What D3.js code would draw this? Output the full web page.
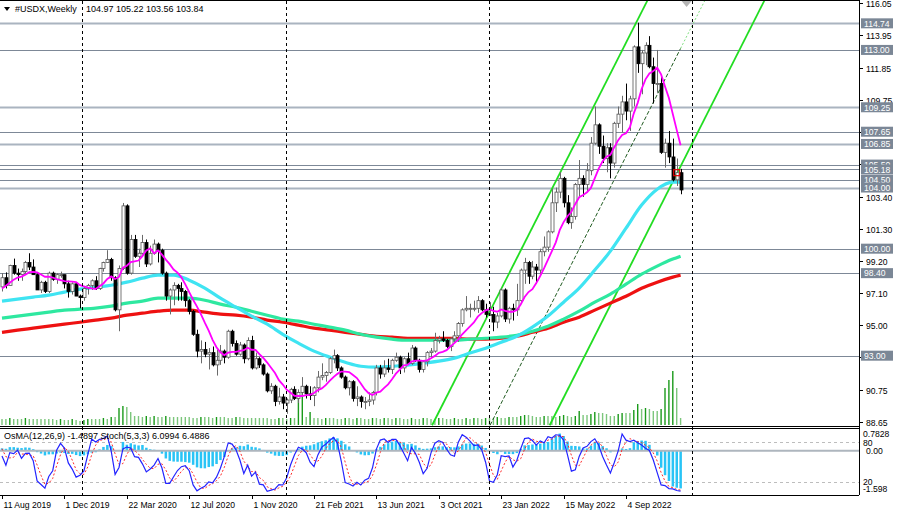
<!DOCTYPE html>
<html lang="en">
<head>
<meta charset="utf-8">
<title>#USDX, Weekly</title>
<script src="https://cdn.jsdelivr.net/npm/d3@7"></script>
<style>
  body { margin: 0; background: #fff; }
  svg text { font-family: "Liberation Sans", Arial, sans-serif; }
</style>
</head>
<body>
<div id="chart"></div>
<script>
// weekly bars from the week of 6 Jan 2019; the first 31 are only warm-up for the indicators,
// the chart shows them from 11 Aug 2019 on
var firstWeek = "2019-01-06";
var firstShown = 31;
var firstOpen = 96.2;

var weekHigh = [
  96.3,96.4,96.6,95.9,96.6,97.4,96.9,96.7,97.7,97.3,96.9,97.3,97.3,97.4,97.4,98.3,98.0,97.8,98.0,98.4,98.2,97.8,97.6,97.7,96.5,97.4,97.6,97.4,98.0,98.9,98.2,
  98.4,98.45,98.95,99.35,98.7,98.7,99.2,99.7,99.3,98.4,
  97.9,97.9,98.5,98.5,98.4,98.5,98.3,97.9,97.8,97.8,
  97.0,97.5,97.7,98.0,98.2,98.75,99.15,99.9,99.4,98.2,
  98.9,102.99,102.9,100.9,100.9,100.0,100.9,100.6,100.2,100.6,
  100.4,100.0,98.5,97.4,97.8,97.7,97.8,97.3,96.7,96.0,
  94.7,94.0,93.9,93.5,93.6,93.4,93.7,93.4,94.7,94.7,
  94.0,93.9,93.8,94.2,94.3,93.2,92.9,92.5,91.9,91.2,
  91.1,90.9,90.5,90.2,90.9,91.0,90.8,91.6,91.1,91.0,
  91.0,92.0,92.5,92.0,92.9,93.4,93.1,92.3,91.7,91.4,
  91.4,91.0,90.4,90.3,90.6,90.7,92.4,92.4,92.7,92.8,
  92.8,93.2,93.0,92.9,93.2,93.7,93.6,92.8,92.7,93.3,
  93.5,94.5,94.3,94.6,94.1,94.2,94.6,95.2,96.1,96.9,
  96.4,96.6,96.9,96.7,96.4,96.5,96.2,95.8,97.4,97.4,
  96.2,96.4,97.7,98.7,99.4,99.2,99.2,99.0,100.0,100.8,
  101.2,103.9,104.0,105.0,104.7,103.5,102.7,104.3,105.8,104.8,
  105.6,107.3,109.3,108.2,107.4,106.9,106.9,108.3,109.3,110.0,
  110.8,110.0,113.3,114.78,113.0,113.5,113.9,112.5,113.0,111.3,
  107.2,107.7,107.2,105.9,105.22
];
var weekLow = [
  95.0,95.5,95.7,95.2,95.6,96.4,96.2,95.9,96.5,96.5,95.7,96.3,96.8,96.7,96.7,97.3,97.1,97.0,97.2,97.6,97.6,96.5,96.5,96.1,95.8,96.0,96.6,96.7,97.0,97.9,97.0,
  97.2,97.4,97.6,98.3,97.9,97.9,98.3,98.6,98.3,97.3,
  97.1,97.1,97.1,97.9,97.7,98.1,97.4,96.8,97.0,96.9,
  96.1,96.6,97.0,97.3,97.3,97.3,98.5,99.1,97.9,95.9,
  94.6,98.6,98.3,98.3,99.4,98.8,99.6,98.8,98.9,99.6,
  99.1,98.3,96.6,95.7,96.3,96.6,96.6,96.2,95.7,94.3,
  92.9,92.5,92.9,92.1,92.3,91.7,92.4,92.5,92.8,93.6,
  93.0,93.0,92.5,92.7,92.1,92.1,92.2,91.7,90.6,90.5,
  89.7,89.8,89.5,89.2,89.9,90.1,89.9,90.4,90.2,90.1,
  89.7,90.6,91.4,91.3,91.8,92.5,92.0,91.5,90.8,90.4,
  90.0,89.7,89.6,89.5,89.7,89.8,90.4,91.5,91.6,91.9,
  91.8,92.6,91.8,91.9,92.4,92.4,92.6,91.9,91.9,92.3,
  92.9,93.2,93.8,93.9,93.5,93.3,93.9,93.9,94.9,95.9,
  95.5,95.9,95.8,95.9,95.5,95.6,94.6,94.8,95.5,95.2,
  95.1,95.3,95.6,96.5,97.7,97.7,98.0,97.7,98.3,99.5,
  99.8,101.0,102.4,103.3,102.7,101.6,101.3,101.9,103.4,103.4,
  103.7,104.8,106.8,106.2,105.6,105.0,104.6,105.3,107.9,107.6,
  108.4,107.7,109.3,111.5,110.1,112.0,111.8,109.5,110.2,106.2,
  105.3,105.6,104.4,104.1,103.56
];
var weekClose = [
  95.7,96.4,95.8,95.6,96.6,96.9,96.5,96.5,97.3,96.6,96.6,97.3,97.0,96.9,97.4,98.0,97.5,97.3,98.0,97.6,97.8,96.5,97.6,96.2,96.1,97.3,96.8,97.2,98.0,98.1,97.5,
  98.1,97.6,98.9,98.4,98.3,98.5,99.1,98.8,98.3,97.3,
  97.8,97.2,98.4,98.0,98.3,98.3,97.7,97.2,97.7,96.9,
  96.8,97.4,97.6,97.9,97.4,98.7,99.1,99.3,98.1,96.0,
  98.7,102.8,98.4,100.6,99.5,99.7,100.4,99.0,99.7,100.3,
  99.9,98.4,96.9,97.3,97.6,97.4,97.2,96.6,95.9,94.4,
  93.3,93.4,93.1,93.2,92.4,92.7,93.3,92.9,94.6,93.8,
  93.1,93.7,92.8,94.0,92.2,92.8,92.4,91.8,90.7,91.0,
  90.0,90.3,89.9,90.1,90.8,90.2,90.6,91.0,90.5,90.4,
  90.9,91.6,91.7,91.9,92.8,93.0,92.2,91.6,90.9,91.3,
  90.2,90.3,90.0,90.0,90.1,90.6,92.2,91.8,92.2,92.1,
  92.7,92.9,92.2,92.8,92.5,93.5,92.7,92.1,92.6,93.2,
  93.3,94.0,94.1,94.0,93.6,94.1,94.3,95.1,96.0,96.1,
  96.1,96.1,96.6,96.0,95.7,95.7,95.2,95.6,97.3,95.4,
  96.1,96.0,96.6,98.6,99.1,98.2,98.8,98.6,99.8,100.1,
  101.1,103.0,103.7,104.6,103.0,101.7,102.1,104.2,104.6,104.2,
  105.1,106.9,108.1,106.7,105.9,106.6,105.6,108.2,108.8,109.6,
  109.0,109.8,113.2,112.1,112.8,113.3,111.9,110.8,110.8,106.3,
  106.9,106.0,104.5,104.97,103.84
];
// tick volume of the shown weeks
var tickVolume = [
  6,6,7,6,6,6,7,6,6,6, 6,6,6,6,5,6,5,5,6,5, 4,5,6,6,6,6,7,6,8,8,
  17,19,18,13,9,9,8,9,8,9, 8,8,9,8,8,8,8,8,8,7, 7,8,8,8,7,8,8,8,7,7,
  8,8,7,7,7,7,7,7,7,6, 6,7,7,6,7,7,32,33,8,13, 7,7,6,7,7,7,6,6,7,7,
  6,7,7,6,6,7,7,6,7,7, 6,7,7,6,6,7,6,6,7,7, 6,6,7,7,6,6,7,6,6,7,
  6,7,7,6,7,7,7,8,7,7, 8,8,8,9,10,10,9,8,8,9, 9,9,8,9,
  10,9,8,9,14,10,10,11,13,12,12,11,9,9,11,12,12,12,15,21,16,17,16,14,14,16,37,45,54,37,7
];

// slow moving averages, read every 4th shown week
var maWeeks = d3.range(0, 173, 4).concat([174]);
var maAqua = [96.57,96.70,96.83,96.96,97.16,97.35,97.48,97.61,97.81,98.07,98.27,98.27,97.94,97.42,96.76,96.17,95.59,95.06,94.40,93.82,
  93.30,92.91,92.57,92.31,92.25,92.31,92.38,92.51,92.64,92.84,93.17,93.49,93.88,94.27,94.87,95.59,96.50,97.42,98.60,99.84,
  101.34,102.85,103.89,104.35,104.35];
var maSpring = [95.46,95.59,95.72,95.85,95.98,96.04,96.11,96.24,96.44,96.57,96.76,96.76,96.76,96.63,96.37,96.17,95.91,95.65,95.39,95.26,
  95.06,94.87,94.67,94.40,94.21,94.08,94.01,94.01,94.01,94.01,94.08,94.14,94.21,94.34,94.60,94.93,95.39,95.91,96.50,97.03,
  97.68,98.33,98.86,99.32,99.51];
var maRed = [94.53,94.67,94.80,94.93,95.06,95.19,95.33,95.46,95.65,95.78,95.91,95.98,95.98,95.85,95.72,95.65,95.52,95.33,95.19,95.00,
  94.80,94.67,94.53,94.40,94.27,94.21,94.14,94.14,94.14,94.14,94.08,94.08,94.14,94.27,94.53,94.80,95.19,95.52,95.98,96.44,
  96.89,97.41,97.81,98.14,98.27];
var fastPeriod = 8;

var levels = [114.74, 113.00, 109.25, 107.65, 106.85, 105.50, 105.18, 104.50, 104.00, 100.00, 98.40, 93.00];
var levelLight = [true, false, true, false, true, false, false, false, true, false, false, false];

var priceTicks = ["116.05","113.95","111.85","109.75","107.65","105.55","103.40","101.30","99.20","97.10","95.00","92.90","90.75","88.65"];
var dateTicks = ["11 Aug 2019","1 Dec 2019","22 Mar 2020","12 Jul 2020","1 Nov 2020","21 Feb 2021","13 Jun 2021","3 Oct 2021","23 Jan 2022","15 May 2022","4 Sep 2022"];
var yearMarks = ["2020-01-01","2021-01-01","2022-01-01","2023-01-01"];

// regression channel: [date, price] end points
var channelUpper = [["2021-09-21", 88.45], ["2022-10-13", 116.27]];
var channelMiddle = [["2022-01-03", 88.45], ["2023-01-24", 116.27]];
var channelLower = [["2022-04-20", 88.45], ["2023-05-11", 116.27]];

var oscTicks = [["0.7828", 0.7828, "osma"], ["80", 80, "stoch"], ["0.00", 0, "osma"], ["20", 20, "stoch"], ["-1.598", -1.598, "osma"]];
var header = "#USDX,Weekly";
var headerValues = "104.97 105.22 103.56 103.84";
var oscHeader = "OsMA(12,26,9) -1.4897  Stoch(5,3,3) 6.0994 6.4886";

// ---------------------------------------------------------------
var parseDay = d3.utcParse("%Y-%m-%d");
var parseTick = d3.utcParse("%d %b %Y");
var start = parseDay(firstWeek);

var bars = weekClose.map(function(c, i) {
  return {
    date: d3.utcDay.offset(start, 7 * i),
    o: i ? weekClose[i - 1] : firstOpen,
    h: weekHigh[i], l: weekLow[i], c: c
  };
});

// indicators
function ema(arr, n) {
  var k = 2 / (n + 1), out = [];
  arr.forEach(function(v, i) { out.push(i ? out[i - 1] + k * (v - out[i - 1]) : v); });
  return out;
}
function sma(arr, n) {
  return arr.map(function(v, i) {
    var s = arr.slice(Math.max(0, i - n + 1), i + 1);
    return d3.mean(s);
  });
}
var e12 = ema(weekClose, 12), e26 = ema(weekClose, 26);
var macd = e12.map(function(v, i) { return v - e26[i]; });
var signal = sma(macd, 9);
var osma = macd.map(function(v, i) { return v - signal[i]; });
var fastMa = sma(weekClose, fastPeriod);

var stK = bars.map(function(b, i) {
  var num = 0, den = 0;
  for (var j = Math.max(0, i - 2); j <= i; j++) {
    var w = bars.slice(Math.max(0, j - 4), j + 1);
    var ll = d3.min(w, function(d) { return d.l; });
    var hh = d3.max(w, function(d) { return d.h; });
    num += bars[j].c - ll; den += hh - ll;
  }
  return den ? num / den * 100 : 50;
});
var stD = sma(stK, 3);

bars.forEach(function(b, i) {
  b.fast = fastMa[i]; b.osma = osma[i]; b.k = stK[i]; b.d = stD[i];
});
var shown = bars.slice(firstShown);
shown.forEach(function(b, i) { b.vol = tickVolume[i]; b.up = i > 0 && tickVolume[i] > tickVolume[i - 1]; });

// ---------------------------------------------------------------
var W = 900, H = 516;
var plotR = 859, mainB = 426, oscT = 428, oscB = 495;

var x = d3.scaleUtc()
  .domain([shown[0].date, shown[shown.length - 1].date])
  .range([2, 680.6]);
var y = d3.scaleLinear().domain([88.65, 116.05]).range([422.2, 3.3]);
var yOsma = d3.scaleLinear().domain([-1.598, 0.7828]).range([491, 431]);
var yStoch = d3.scaleLinear().domain([0, 100]).range([495.2, 429.2]);
var yVol = d3.scaleLinear().domain([0, d3.max(tickVolume)]).range([0, 54]);

var svg = d3.select("#chart").append("svg")
  .attr("width", W).attr("height", H);

var defs = svg.append("defs");
defs.append("clipPath").attr("id", "clipMain")
  .append("rect").attr("x", 0).attr("y", 0).attr("width", plotR).attr("height", mainB);
defs.append("clipPath").attr("id", "clipOsc")
  .append("rect").attr("x", 0).attr("y", oscT).attr("width", plotR).attr("height", oscB - oscT);

var main = svg.append("g").attr("clip-path", "url(#clipMain)");
var osc = svg.append("g").attr("clip-path", "url(#clipOsc)");

// level lines
main.selectAll("line.level").data(levels).enter().append("line")
  .attr("class", "level")
  .attr("x1", 0).attr("x2", plotR)
  .attr("y1", function(d) { return Math.round(y(d)) + 0.5; })
  .attr("y2", function(d) { return Math.round(y(d)) + 0.5; })
  .attr("stroke", function(d, i) { return levelLight[i] ? "#aab4c0" : "#7d8897"; })
  .attr("stroke-width", function(d, i) { return levelLight[i] ? 2 : 1.2; });

// year separators
svg.selectAll("line.sep").data(yearMarks).enter().append("line")
  .attr("class", "sep")
  .attr("x1", function(d) { return Math.round(x(parseDay(d))) + 0.5; })
  .attr("x2", function(d) { return Math.round(x(parseDay(d))) + 0.5; })
  .attr("y1", 1).attr("y2", oscB)
  .attr("stroke", "#000").attr("stroke-width", 1).attr("stroke-dasharray", "3,3");

// tick volume
main.selectAll("line.vol").data(shown).enter().append("line")
  .attr("class", "vol")
  .attr("x1", function(d) { return x(d.date); })
  .attr("x2", function(d) { return x(d.date); })
  .attr("y1", 425).attr("y2", function(d) { return 425 - yVol(d.vol); })
  .attr("stroke", function(d) { return d.up ? "#1a9a1a" : "#7cc67c"; })
  .attr("stroke-width", 1.4);

// channel
function chanLine(pts, color, width, dash) {
  main.append("line")
    .attr("x1", x(parseDay(pts[0][0]))).attr("y1", y(pts[0][1]))
    .attr("x2", x(parseDay(pts[1][0]))).attr("y2", y(pts[1][1]))
    .attr("stroke", color).attr("stroke-width", width)
    .attr("stroke-dasharray", dash || null);
}
chanLine(channelUpper, "#22dd22", 1.8);
chanLine(channelLower, "#22dd22", 1.8);
// middle line: dashed up to the last bar, dotted beyond
var lastDate = shown[shown.length - 1].date;
var t0 = parseDay(channelMiddle[0][0]), t1 = parseDay(channelMiddle[1][0]);
var frac = (lastDate - t0) / (t1 - t0);
var midPrice = channelMiddle[0][1] + frac * (channelMiddle[1][1] - channelMiddle[0][1]);
main.append("line")
  .attr("x1", x(t0)).attr("y1", y(channelMiddle[0][1]))
  .attr("x2", x(lastDate)).attr("y2", y(midPrice))
  .attr("stroke", "#1f5a1f").attr("stroke-width", 1).attr("stroke-dasharray", "4,2");
main.append("line")
  .attr("x1", x(lastDate)).attr("y1", y(midPrice))
  .attr("x2", x(t1)).attr("y2", y(channelMiddle[1][1]))
  .attr("stroke", "#7fe07f").attr("stroke-width", 1).attr("stroke-dasharray", "2,2");

// slow moving averages
var maLine = d3.line()
  .x(function(d) { return x(shown[d[0]].date); })
  .y(function(d) { return y(d[1]); })
  .curve(d3.curveMonotoneX);
[[maRed, "#ee1111"], [maSpring, "#2ee8a0"], [maAqua, "#3fe4f2"]].forEach(function(m) {
  main.append("path")
    .datum(maWeeks.map(function(w, i) { return [w, m[0][i]]; }))
    .attr("d", maLine)
    .attr("fill", "none").attr("stroke", m[1]).attr("stroke-width", 3.2);
});

// candles
var candle = main.selectAll("g.candle").data(shown).enter().append("g").attr("class", "candle");
candle.append("line")
  .attr("x1", function(d) { return Math.round(x(d.date)) + 0.5; })
  .attr("x2", function(d) { return Math.round(x(d.date)) + 0.5; })
  .attr("y1", function(d) { return y(d.h); })
  .attr("y2", function(d) { return y(d.l); })
  .attr("stroke", function(d) { return d.c >= d.o ? "#6a6a6a" : "#000"; })
  .attr("stroke-width", 1);
candle.append("rect")
  .attr("x", function(d) { return Math.round(x(d.date)) - 1; })
  .attr("width", 3)
  .attr("y", function(d) { return y(Math.max(d.o, d.c)); })
  .attr("height", function(d) { return Math.max(1, Math.abs(y(d.o) - y(d.c))); })
  .attr("fill", function(d) { return d.c >= d.o ? "#fff" : "#000"; })
  .attr("stroke", function(d) { return d.c >= d.o ? "#555" : "#000"; })
  .attr("stroke-width", 0.8);

// fast moving average
main.append("path")
  .datum(shown)
  .attr("d", d3.line().x(function(d) { return x(d.date); }).y(function(d) { return y(d.fast); }))
  .attr("fill", "none").attr("stroke", "#ff00ff").attr("stroke-width", 1.8);

// marker at the previous close, shift marker
var prev = shown[shown.length - 2];
main.append("rect")
  .attr("x", x(prev.date) - 3).attr("y", y(prev.c) - 3)
  .attr("width", 6).attr("height", 6)
  .attr("fill", "none").attr("stroke", "#e00000").attr("stroke-width", 1.2);
svg.append("path")
  .attr("d", "M" + (x(lastDate) + 1) + ",1 L" + (x(lastDate) + 11) + ",1 L" + (x(lastDate) + 6) + ",7 Z")
  .attr("fill", "#b5b5b5");

// oscillator window
osc.selectAll("line.lvl").data([80, 20]).enter().append("line")
  .attr("x1", 0).attr("x2", plotR)
  .attr("y1", function(d) { return Math.round(yStoch(d)) + 0.5; })
  .attr("y2", function(d) { return Math.round(yStoch(d)) + 0.5; })
  .attr("stroke", "#bdbdbd").attr("stroke-dasharray", "3,3");
osc.selectAll("rect.osma").data(shown).enter().append("rect")
  .attr("class", "osma")
  .attr("x", function(d) { return x(d.date) - 1.2; })
  .attr("width", 2.5)
  .attr("y", function(d) { return Math.min(yOsma(0), yOsma(d.osma)); })
  .attr("height", function(d) { return Math.abs(yOsma(d.osma) - yOsma(0)); })
  .attr("fill", "#29c4f6");
osc.append("line")
  .attr("x1", 0).attr("x2", plotR)
  .attr("y1", yOsma(0)).attr("y2", yOsma(0))
  .attr("stroke", "#aeb6be").attr("stroke-width", 2);
osc.append("path").datum(shown)
  .attr("d", d3.line().x(function(d) { return x(d.date); }).y(function(d) { return yStoch(d.d); }))
  .attr("fill", "none").attr("stroke", "#ff2a2a").attr("stroke-width", 1).attr("stroke-dasharray", "2,2");
osc.append("path").datum(shown)
  .attr("d", d3.line().x(function(d) { return x(d.date); }).y(function(d) { return yStoch(d.k); }))
  .attr("fill", "none").attr("stroke", "#2424ff").attr("stroke-width", 1.2);

// frames
svg.append("line").attr("x1", 0).attr("x2", plotR).attr("y1", 0.5).attr("y2", 0.5).attr("stroke", "#000");
svg.append("line").attr("x1", 0).attr("x2", plotR).attr("y1", mainB + 0.5).attr("y2", mainB + 0.5).attr("stroke", "#000");
svg.append("line").attr("x1", 0).attr("x2", plotR).attr("y1", oscT + 0.5).attr("y2", oscT + 0.5).attr("stroke", "#000");
svg.append("line").attr("x1", 0).attr("x2", plotR).attr("y1", oscB + 0.5).attr("y2", oscB + 0.5).attr("stroke", "#000");
svg.append("line").attr("x1", plotR + 0.5).attr("x2", plotR + 0.5).attr("y1", 0).attr("y2", oscB).attr("stroke", "#000");

// price axis; a tick label that sits under a level box is hidden, as in the terminal
var axisG = svg.append("g");
priceTicks.forEach(function(t) {
  var yy = Math.round(y(+t)) + 0.5;
  axisG.append("line").attr("x1", plotR).attr("x2", plotR + 4).attr("y1", yy).attr("y2", yy).attr("stroke", "#000");
  var covered = levels.some(function(v) { return Math.abs(y(v) - y(+t)) < 5; });
  if (!covered) {
    axisG.append("text").attr("x", 866).attr("y", yy + 3.2)
      .attr("font-size", "8.6px").attr("fill", "#000").text(t);
  }
});
levels.forEach(function(v) {
  var yy = y(v);
  axisG.append("rect").attr("x", 861).attr("y", yy - 5).attr("width", 32).attr("height", 10).attr("fill", "#7b8796");
  axisG.append("text").attr("x", 864).attr("y", yy + 3.3)
    .attr("font-size", "8.6px").attr("fill", "#fff").text(v.toFixed(2));
});

// oscillator axis
oscTicks.forEach(function(t) {
  var yy = t[2] === "osma" ? yOsma(t[1]) : yStoch(t[1]);
  if (t[0] === "0.7828") yy += 3;
  if (t[0] === "-1.598") yy -= 2;
  axisG.append("text").attr("x", t[0] === "0.00" ? 866 : 863).attr("y", yy + 3.2)
    .attr("font-size", "8.6px").attr("fill", "#000").text(t[0]);
});

// date axis
dateTicks.forEach(function(t) {
  var xx = Math.round(x(parseTick(t))) + 0.5;
  axisG.append("line").attr("x1", xx).attr("x2", xx).attr("y1", oscB).attr("y2", oscB + 4).attr("stroke", "#000");
  axisG.append("text").attr("x", xx + 1).attr("y", 508)
    .attr("font-size", "8.6px").attr("fill", "#000").text(t);
});

// headers
svg.append("path").attr("d", "M4,7 L10,7 L7,11 Z").attr("fill", "#000");
svg.append("text").attr("x", 15).attr("y", 12).attr("font-size", "9px").attr("fill", "#000").text(header);
svg.append("text").attr("x", 86).attr("y", 12).attr("font-size", "9px").attr("fill", "#000").text(headerValues);
svg.append("text").attr("x", 4).attr("y", 439).attr("font-size", "9px").attr("fill", "#000").text(oscHeader);
</script>
</body>
</html>
